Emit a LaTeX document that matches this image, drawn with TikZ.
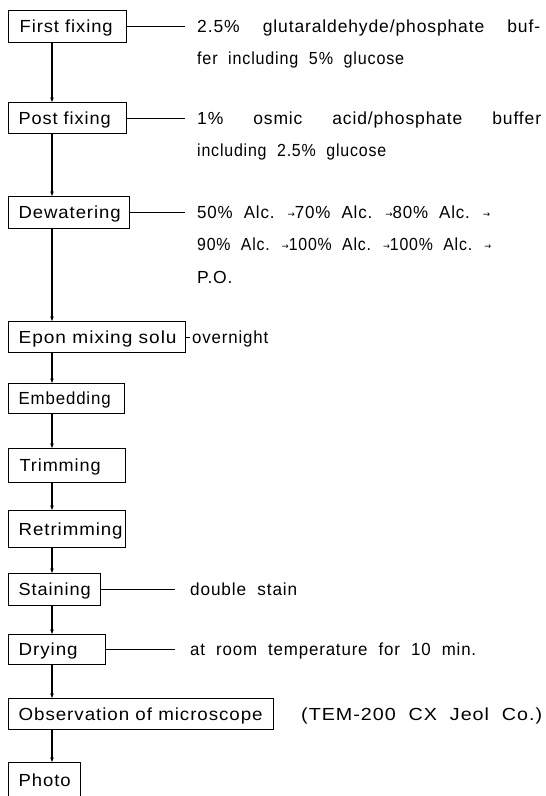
\documentclass[tikz,border=0pt]{standalone}
\usepackage{fontspec}
\usepackage{graphicx}
\setmainfont{Liberation Sans}[LetterSpace=5,WordSpace=2]
\newfontfamily\arrowfont{DejaVu Sans}
\usetikzlibrary{arrows.meta}
\newcommand{\fw}[2]{\makebox[#1][s]{#2}}
\newcommand{\fit}[2]{\resizebox{#1}{\height}{#2}}
\newcommand{\ra}{{\arrowfont\fontsize{9}{10}\selectfont\raisebox{1.5pt}{→}}}
\begin{document}
\begin{tikzpicture}[x=1pt,y=-1pt,
  every node/.style={font=\fontsize{17.5}{20}\selectfont},
  stepbox/.style={draw, line width=1.3pt, rectangle, anchor=north west,
    inner xsep=10pt, inner ysep=0pt, align=left, text height=12.5pt, text depth=0pt},
  flow/.style={line width=1.2pt, -{Stealth[length=4.5pt,width=3.5pt]}},
  side/.style={line width=1pt},
  note/.style={anchor=base west, inner sep=0pt}]
\useasboundingbox (0,0) rectangle (546,796);
\coordinate (xl) at (52,0);
% boxes
\node[stepbox, text width=98pt, minimum height=32pt] (b1) at (8,10) {\hspace*{1pt}\fit{93pt}{First fixing}};
\node[stepbox, text width=98pt, minimum height=31pt] (b2) at (8,102) {\fit{92pt}{Post fixing}};
\node[stepbox, text width=101pt, minimum height=32pt] (b3) at (8,196) {\fit{102pt}{Dewatering}};
\node[stepbox, text width=157pt, minimum height=31pt] (b4) at (8,321) {\fit{158pt}{Epon mixing solu}};
\node[stepbox, text width=96pt, minimum height=30pt] (b5) at (8,383) {\fit{92pt}{Embedding}};
\node[stepbox, text width=97pt, minimum height=34pt] (b6) at (8,448) {\hspace*{1pt}\fit{81pt}{Trimming}};
\node[stepbox, text width=97pt, minimum height=37pt] (b7) at (8,510) {\fit{104pt}{Retrimming}};
\node[stepbox, text width=72pt, minimum height=32pt] (b8) at (8,573) {\fit{72pt}{Staining}};
\node[stepbox, text width=77pt, minimum height=30pt] (b9) at (8,634) {\fit{59pt}{Drying}};
\node[stepbox, text width=245pt, minimum height=31pt] (b10) at (8,698) {\fit{244pt}{Observation of microscope}};
\node[stepbox, text width=52pt, minimum height=36pt] (b11) at (8,762) {\fit{52pt}{Photo}};
% flow connectors
\draw[flow] (b1.south -| xl) -- (b2.north -| xl);
\draw[flow] (b2.south -| xl) -- (b3.north -| xl);
\draw[flow] (b3.south -| xl) -- (b4.north -| xl);
\draw[flow] (b4.south -| xl) -- (b5.north -| xl);
\draw[flow] (b5.south -| xl) -- (b6.north -| xl);
\draw[flow] (b6.south -| xl) -- (b7.north -| xl);
\draw[flow] (b7.south -| xl) -- (b8.north -| xl);
\draw[flow] (b8.south -| xl) -- (b9.north -| xl);
\draw[flow] (b9.south -| xl) -- (b10.north -| xl);
\draw[flow] (b10.south -| xl) -- (b11.north -| xl);
% side notes
\node[note] (t1a) at (197,32) {\fw{343pt}{2.5\% glutaraldehyde/phosphate buf-}};
\node[note] (t1b) at (197,64) {\fit{207pt}{fer including 5\% glucose}};
\node[note] (t2a) at (197,124) {\fw{344pt}{1\% osmic acid/phosphate buffer}};
\node[note] (t2b) at (197,156) {\fit{189pt}{including 2.5\% glucose}};
\node[note] (t3a) at (197,218.5) {\fit{293pt}{50\% Alc. \ra70\% Alc. \ra80\% Alc. \ra}};
\node[note] (t3b) at (197,250.5) {\fit{294pt}{90\% Alc. \ra100\% Alc. \ra100\% Alc. \ra}};
\node[note] (t3c) at (197,283) {P.O.};
\node[note] (t4) at (192,343) {\fit{76pt}{overnight}};
\node[note] (t8) at (190,595.5) {\fit{107pt}{double stain}};
\node[note] (t9) at (190,655.5) {\fit{286pt}{at room temperature for 10 min.}};
\node[note] (t10) at (301,720) {\fit{241pt}{(TEM-200 CX Jeol Co.)}};
\draw[side] (b1.east) -- ([xshift=-12pt]b1.east -| t1a.west);
\draw[side] (b2.east) -- ([xshift=-12pt]b2.east -| t2a.west);
\draw[side] (b3.east) -- ([xshift=-12pt]b3.east -| t3a.west);
\draw[side] (b4.east) -- ([xshift=-2pt]b4.east -| t4.west);
\draw[side] (b8.east) -- ([xshift=-15pt]b8.east -| t8.west);
\draw[side] (b9.east) -- ([xshift=-15pt]b9.east -| t9.west);
\end{tikzpicture}
\end{document}
